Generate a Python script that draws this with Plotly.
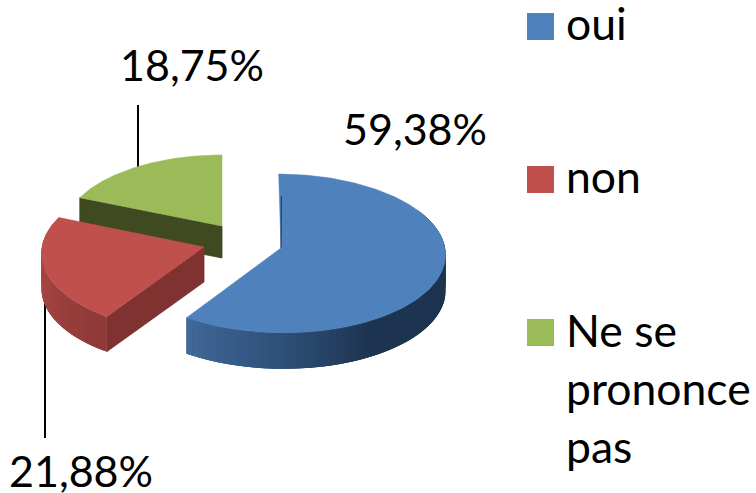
import numpy as np
import plotly.graph_objects as go

# ---- data ----
categories = ["oui", "non", "Ne se prononce pas"]
values = [59.38, 21.88, 18.75]
value_labels = ["59,38%", "21,88%", "18,75%"]
legend_lines = [["oui"], ["non"], ["Ne se", "prononce", "pas"]]

# ---- styles ----
TOP = ["#4F81BD", "#C0504D", "#9BBB59"]
CUT = ["#1D3450", "#7F3230", "#404A20"]
W, H = 756, 493
FONT = "Lato"
K = 0.069
# apex x, apex y, radius x, radius y, depth, shear for each slice
GEOM = [(281, 248, 164, 79, 36, 2.5), (204, 247, 162, 79, 35, -2), (222, 226, 158, 76, 32, 0)]

ends = np.cumsum(values) / np.sum(values) * 360
starts = np.concatenate([[0], ends[:-1]])


def rim(i, theta_deg):
    ax, ay, r, ry, d, sh = GEOM[i]
    t = np.radians(theta_deg)
    u, v = np.sin(t), -np.cos(t)
    s = 1 / (1 - K * v)
    return ax + (r * u + sh * v) * s, ay + ry * v * s


def hex2rgb(h):
    return np.array([int(h[j:j + 2], 16) for j in (1, 3, 5)], float)


def grad(th, stops):
    a = [p[0] for p in stops]
    c = np.array([hex2rgb(p[1]) for p in stops])
    return "rgb(%d,%d,%d)" % tuple(np.interp(th, a, c[:, k]) for k in range(3))


fig = go.Figure()


def poly(xs, ys, color, name, line=0.8):
    fig.add_trace(go.Scatter(x=list(xs), y=list(ys), mode="lines", fill="toself",
                             fillcolor=color, line=dict(color=color, width=line),
                             hoverinfo="skip", showlegend=False, name=name))


def top_face(i):
    ax, ay = GEOM[i][:2]
    th = np.linspace(starts[i], ends[i], 160)
    x, y = rim(i, th)
    poly(np.r_[ax, x, ax], np.r_[ay, y, ay], TOP[i], categories[i], 0.5)


def cut_face(i, theta):
    ax, ay, _, _, d, _ = GEOM[i]
    x, y = rim(i, theta)
    poly([x, ax, ax, x, x], [y, ay, ay + d, y + d, y], CUT[i], categories[i])


def wall(i, th0, th1, stops):
    # overlapping bands so no white seam shows between them
    d = GEOM[i][4]
    edges = np.linspace(th0, th1, 70)
    step = abs(edges[1] - edges[0])
    for a, b in zip(edges[:-1], edges[1:]):
        lo, hi = min(a, b), max(a, b)
        if th0 > th1:
            hi = min(hi + 2 * step, th0)
        else:
            hi = min(hi + 2 * step, th1)
        arc = np.linspace(lo, hi, 6)
        x, y = rim(i, arc)
        poly(np.r_[x, x[::-1], x[0]], np.r_[y, y[::-1] + d, y[0]],
             grad((a + b) / 2, stops), categories[i], 0)


# leader lines (behind the pie)
fig.add_trace(go.Scatter(x=[138, 138], y=[105, 170], mode="lines",
                         line=dict(color="black", width=2), hoverinfo="skip", showlegend=False))
fig.add_trace(go.Scatter(x=[45, 45], y=[295, 438], mode="lines",
                         line=dict(color="black", width=2), hoverinfo="skip", showlegend=False))

# green
cut_face(2, ends[1])
top_face(2)
# red
cut_face(1, starts[1])
wall(1, ends[1], starts[1], [(starts[1], "#8E3A38"), (250, "#A44442"), (ends[1], "#B04846")])
top_face(1)
# blue
wall(0, 60, ends[0], [(60, "#1E3650"), (150, "#1D3450"), (180, "#2F4F78"), (ends[0], "#41699A")])
top_face(0)
# thin dark sliver along the blue back edge
bx, by = rim(0, 1.0)
fig.add_trace(go.Scatter(x=[bx, GEOM[0][0]], y=[by + 22, GEOM[0][1]], mode="lines",
                         line=dict(color="#1D3450", width=1), hoverinfo="skip", showlegend=False))

# legend swatches
for i, yc in enumerate([26.5, 179.5, 332.5]):
    fig.add_trace(go.Scatter(x=[540.5], y=[yc], mode="markers",
                             marker=dict(symbol="square", size=27, color=TOP[i], line=dict(width=0)),
                             hoverinfo="skip", showlegend=False))

# texts
ann = []
def txt(x, y, s, size, anchor="left"):
    ann.append(dict(x=x, y=y, xref="x", yref="y", text=s, showarrow=False, xanchor=anchor,
                    yanchor="middle", align="left", font=dict(family=FONT, size=size, color="black")))

txt(415, 128, value_labels[0], 43, "center")
txt(81, 470, value_labels[1], 43, "center")
txt(192, 64, value_labels[2], 43, "center")
for lines, ys in zip(legend_lines, [[22], [175], [329, 387, 445]]):
    for s, y in zip(lines, ys):
        txt(564, y, s, 44.5)

fig.update_layout(width=W, height=H, margin=dict(l=0, r=0, t=0, b=0),
                  paper_bgcolor="white", plot_bgcolor="white", showlegend=False,
                  annotations=ann,
                  xaxis=dict(range=[0, W], visible=False, fixedrange=True),
                  yaxis=dict(range=[H, 0], visible=False, fixedrange=True))
fig.write_html("out.html", config=dict(displayModeBar=False),
               post_script="document.body.style.margin='0';document.body.style.overflow='hidden';")
